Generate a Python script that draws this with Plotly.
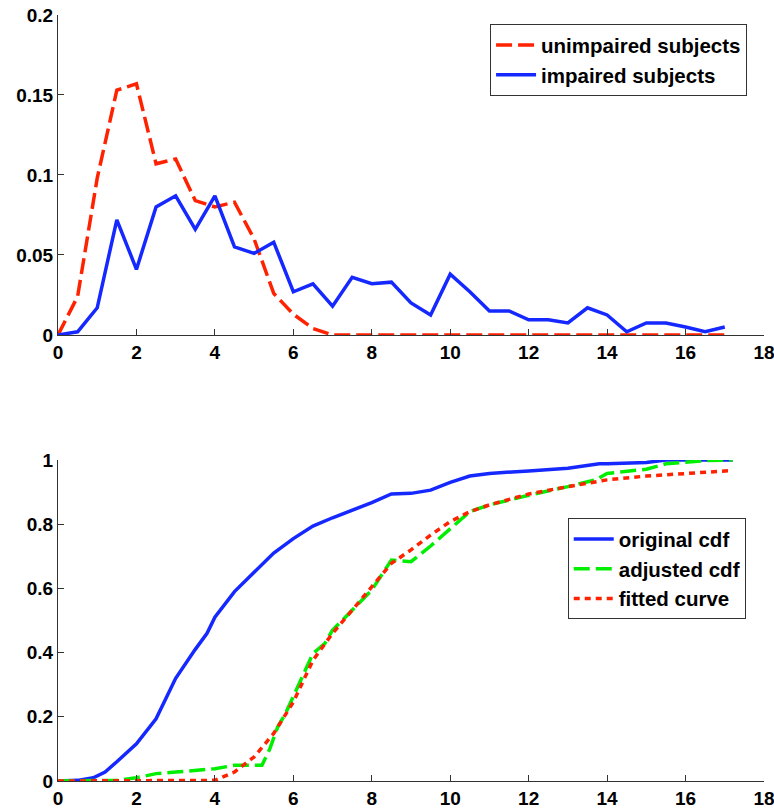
import plotly.graph_objects as go

# ---- top panel data ----
x_top = [0, 0.5, 1, 1.5, 2, 2.5, 3, 3.5, 4, 4.5, 5, 5.5, 6, 6.5, 7, 7.5, 8, 8.5,
         9, 9.5, 10, 10.5, 11, 11.5, 12, 12.5, 13, 13.5, 14, 14.5, 15, 15.5, 16, 16.5, 17]
unimpaired = [0, 0.024, 0.098, 0.153, 0.157, 0.107, 0.110, 0.084, 0.080, 0.083, 0.060, 0.026,
              0.013, 0.004, 0, 0, 0, 0, 0, 0, 0, 0, 0, 0, 0, 0, 0, 0, 0, 0, 0, 0, 0, 0, 0]
impaired = [0, 0.002, 0.017, 0.072, 0.041, 0.080, 0.087, 0.066, 0.087, 0.055, 0.051, 0.058,
            0.027, 0.032, 0.018, 0.036, 0.032, 0.033, 0.020, 0.0125, 0.038, 0.027, 0.015, 0.015,
            0.0095, 0.0095, 0.0075, 0.017, 0.0125, 0.002, 0.0075, 0.0075, 0.005, 0.002, 0.005]

# ---- bottom panel data ----
x_orig = [0, 0.5, 0.9, 1.2, 1.5, 2, 2.5, 3, 3.5, 3.8, 4, 4.5, 5, 5.5, 6, 6.5, 7, 7.5, 8, 8.5,
          9, 9.5, 10, 10.5, 11, 12, 13, 13.8, 14, 15, 15.5, 17.2]
y_orig = [0, 0.002, 0.01, 0.028, 0.06, 0.116, 0.194, 0.32, 0.41, 0.46, 0.51, 0.59, 0.65, 0.71,
          0.755, 0.794, 0.82, 0.844, 0.867, 0.894, 0.896, 0.906, 0.93, 0.95, 0.958, 0.966,
          0.974, 0.988, 0.988, 0.992, 1.0, 1.0]

x_adj = [0, 1.5, 2, 2.5, 3, 3.5, 4, 4.5, 5.2, 5.4, 5.6, 5.8, 6, 6.3, 6.5, 6.8, 7, 7.5, 8, 8.5,
         9, 9.5, 10, 10.5, 11, 12, 13, 13.7, 14, 15, 15.5, 16.5, 17.2]
y_adj = [0, 0.002, 0.01, 0.023, 0.028, 0.033, 0.038, 0.049, 0.049, 0.10, 0.168, 0.21, 0.262,
         0.345, 0.397, 0.428, 0.47, 0.532, 0.595, 0.688, 0.683, 0.732, 0.787, 0.839, 0.86,
         0.89, 0.917, 0.938, 0.958, 0.971, 0.988, 0.998, 1.0]

x_fit = [0, 4, 4.5, 5, 5.5, 6, 6.5, 7, 7.5, 8, 8.5, 9, 9.5, 10, 10.5, 11, 12, 13, 14, 15, 16, 17.2]
y_fit = [0, 0.002, 0.028, 0.075, 0.148, 0.246, 0.376, 0.46, 0.532, 0.605, 0.678, 0.72, 0.766,
         0.808, 0.839, 0.86, 0.894, 0.917, 0.938, 0.95, 0.958, 0.967]

RED = "#ff2200"
BLUE = "#1428ff"
GREEN = "#00ee00"
FONT = "Liberation Sans"

fig = go.Figure()
fig.add_trace(go.Scatter(x=x_top, y=unimpaired, mode="lines", name="unimpaired subjects",
                         line=dict(color=RED, width=3.5, dash="16px,6px"),
                         xaxis="x", yaxis="y", legend="legend"))
fig.add_trace(go.Scatter(x=x_top, y=impaired, mode="lines", name="impaired subjects",
                         line=dict(color=BLUE, width=3.5),
                         xaxis="x", yaxis="y", legend="legend"))

fig.add_trace(go.Scatter(x=x_orig, y=y_orig, mode="lines", name="original cdf",
                         line=dict(color=BLUE, width=3.5),
                         xaxis="x2", yaxis="y2", legend="legend2"))
fig.add_trace(go.Scatter(x=x_adj, y=y_adj, mode="lines", name="adjusted cdf",
                         line=dict(color=GREEN, width=3.5, dash="16px,6px"),
                         xaxis="x2", yaxis="y2", legend="legend2"))
fig.add_trace(go.Scatter(x=x_fit, y=y_fit, mode="lines", name="fitted curve",
                         line=dict(color=RED, width=3.5, dash="6px,5px"),
                         xaxis="x2", yaxis="y2", legend="legend2"))

axis_common = dict(showline=True, linecolor="#333333", linewidth=1, ticks="inside",
                   ticklen=6, tickcolor="#333333", showgrid=False, zeroline=False,
                   tickfont=dict(family=FONT, size=19, color="black", weight="bold"),
                   mirror=False, automargin=False, ticklabeloverflow="allow")

legend_font = dict(family=FONT, size=20.5, color="black", weight="bold")

fig.update_layout(
    template="none",
    width=774, height=808,
    margin=dict(l=58, r=10, t=15, b=27, autoexpand=False),
    paper_bgcolor="white", plot_bgcolor="white",
    xaxis=dict(domain=[0, 1], range=[0, 18], dtick=2, anchor="y", **axis_common),
    yaxis=dict(domain=[0.5823, 1], range=[0, 0.2], tickvals=[0, 0.05, 0.1, 0.15, 0.2],
               ticktext=["0", "0.05", "0.1", "0.15", "0.2"], anchor="x", **axis_common),
    xaxis2=dict(domain=[0, 1], range=[0, 18], dtick=2, anchor="y2", **axis_common),
    yaxis2=dict(domain=[0, 0.4191], range=[0, 1], tickvals=[0, 0.2, 0.4, 0.6, 0.8, 1],
                ticktext=["0", "0.2", "0.4", "0.6", "0.8", "1"], anchor="x2", **axis_common),
    legend=dict(x=0.612, y=0.988, xanchor="left", yanchor="top",
                bordercolor="#333333", borderwidth=1, bgcolor="white",
                font=legend_font, tracegroupgap=0, itemwidth=40),
    legend2=dict(x=0.722, y=0.343, xanchor="left", yanchor="top",
                 bordercolor="#333333", borderwidth=1, bgcolor="white",
                 font=legend_font, tracegroupgap=0, itemwidth=40),
    showlegend=True,
)

fig.write_html("out.html")
